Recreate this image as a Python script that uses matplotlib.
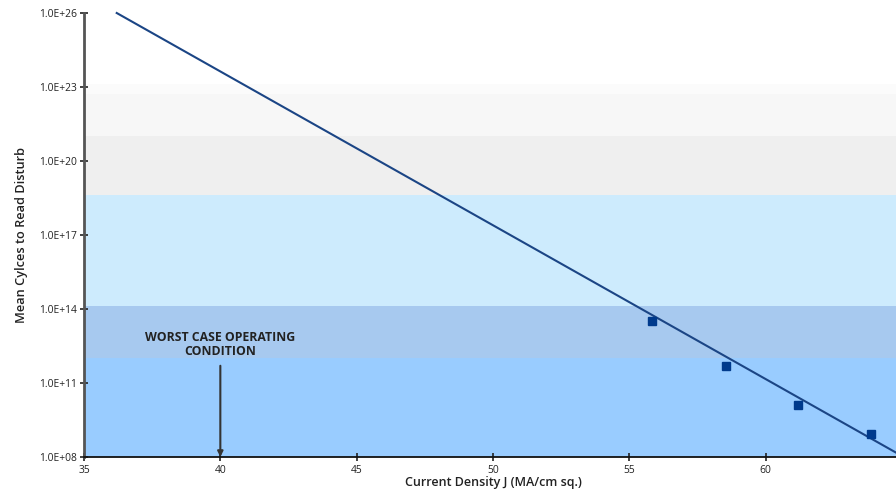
import matplotlib
matplotlib.use("Agg")
import matplotlib.pyplot as plt
from matplotlib.ticker import FixedLocator, NullLocator

# ---- data ----
meas_j = [55.82, 58.54, 61.18, 63.88]
meas_cycles = [3.2e13, 5.0e11, 1.26e10, 8.3e8]
fit_j = [36.2, 65.0]
fit_cycles = [1.0e26, 1.1e8]

band_lo = [1e8, 1e12, 1.3e14, 4e18, 1e21, 5e22]
band_hi = [1e12, 1.3e14, 4e18, 1e21, 5e22, 1.3e23]
band_colors = ["#99ccff", "#a7c9ef", "#cdebfd", "#efefef", "#f7f7f7", "#fbfbfb"]

x_ticks = [35, 40, 45, 50, 55, 60, 65]
y_ticks = [1e8, 1e11, 1e14, 1e17, 1e20, 1e23, 1e26]
y_tick_labels = ["1.0E+08", "1.0E+11", "1.0E+14", "1.0E+17", "1.0E+20", "1.0E+23", "1.0E+26"]

plt.rcParams['font.family'] = ['Open Sans', 'DejaVu Sans']

fig = plt.figure(figsize=(8.96, 4.93), dpi=100)
ax = fig.add_axes([84/896, 36/493, (902-84)/896, (457-13)/493])
ax.set_yscale('log')
ax.set_xlim(35, 65)
ax.set_ylim(1e8, 1e26)

for lo, hi, c in zip(band_lo, band_hi, band_colors):
    ax.axhspan(lo, hi, color=c, lw=0, zorder=0)

ax.plot(fit_j, fit_cycles, color="#1b4585", lw=1.5, zorder=3, clip_on=False)
ax.plot(meas_j, meas_cycles, 's', color="#003a8c", ms=5.5, zorder=4)

ax.annotate("", xy=(40, 1e8), xytext=(40, 5e11),
            arrowprops=dict(arrowstyle="-|>", color="#333333", lw=1.5,
                            mutation_scale=8, shrinkA=0, shrinkB=0), zorder=5)
ax.text(40, 3.6e12, "WORST CASE OPERATING\nCONDITION", ha='center', va='center',
        fontsize=8.8, fontweight='bold', color="#222222", linespacing=1.05, zorder=5)

ax.xaxis.set_major_locator(FixedLocator(x_ticks))
ax.yaxis.set_major_locator(FixedLocator(y_ticks))
ax.yaxis.set_minor_locator(NullLocator())
ax.set_yticklabels(y_tick_labels)
ax.tick_params(axis='both', direction='inout', length=6, width=1.2, labelsize=7.4,
               colors="#222222")
ax.tick_params(axis='x', pad=3)
ax.tick_params(axis='y', pad=2)

for s in ['top', 'right']:
    ax.spines[s].set_visible(False)
ax.spines['left'].set_color("#555555")
ax.spines['left'].set_linewidth(2)
ax.spines['bottom'].set_color("#111111")
ax.spines['bottom'].set_linewidth(1.3)

ax.set_xlabel("Current Density J (MA/cm sq.)", fontsize=9.0, fontweight='semibold',
              color="#222222", labelpad=0)
ax.set_ylabel("Mean Cylces to Read Disturb", fontsize=9.2, fontweight='semibold',
              color="#222222", labelpad=8)

fig.savefig("out.png", dpi=100)
